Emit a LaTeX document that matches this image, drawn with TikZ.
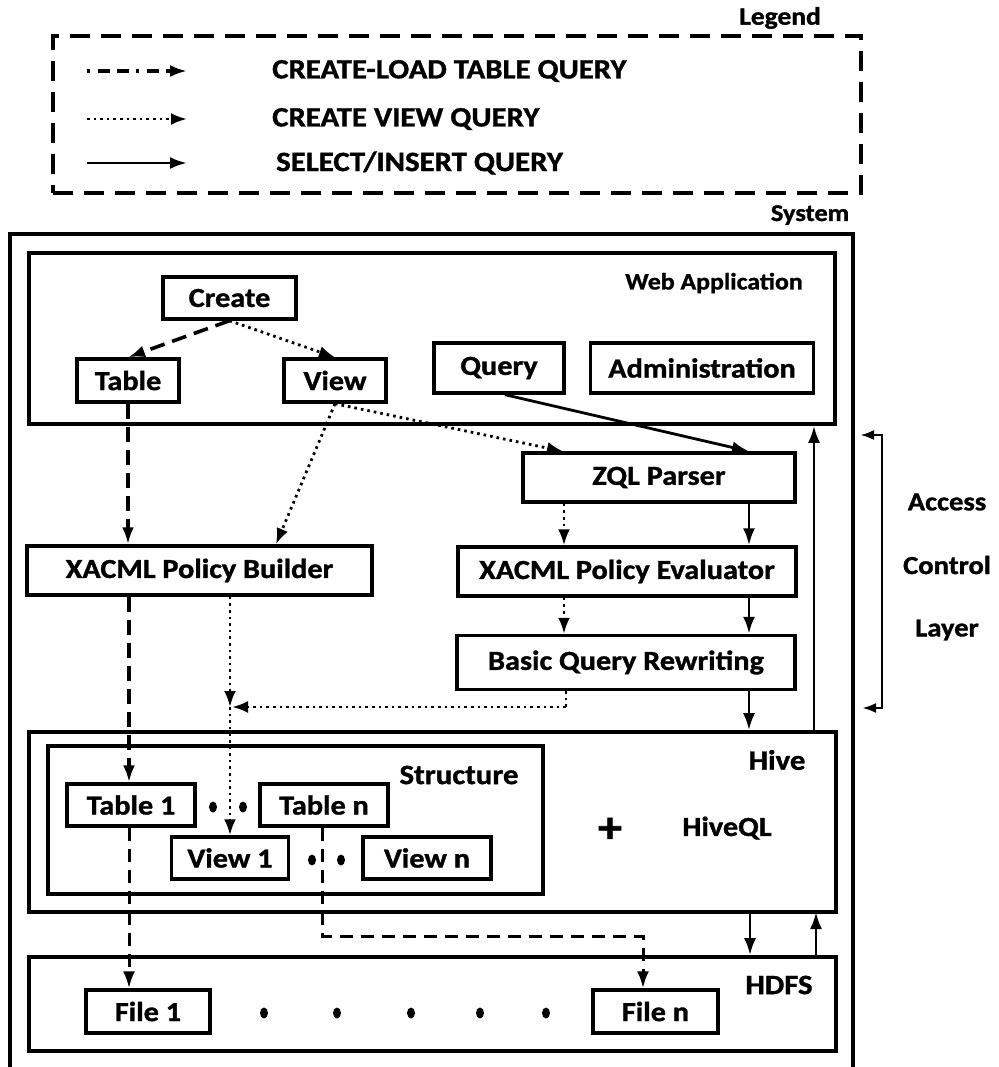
\documentclass[tikz,border=0pt]{standalone}
\usepackage{fontspec}
\setmainfont{Carlito}[FakeStretch=1.1, BoldFeatures={FakeBold=1.2}]
\usetikzlibrary{arrows.meta,calc}
\newcommand\boxfont{\fontsize{27.5}{30}\selectfont\bfseries}
\newcommand\lblfont{\fontsize{25}{28}\selectfont\bfseries}
\begin{document}
\begin{tikzpicture}[x=1pt,y=-1pt,
  box/.style={draw, line width=3.4pt, inner sep=0pt, font=\boxfont, align=center},
  frame/.style={draw, line width=3.6pt, inner sep=0pt},
  lbl/.style={inner sep=0pt, font=\lblfont},
  solidarr/.style={line width=2.8pt, -{Latex[length=17pt,width=12pt]}},
  dasharr/.style={line width=3.6pt, dash pattern=on 15pt off 8pt, -{Latex[length=17pt,width=12pt]}},
  thindasharr/.style={line width=3pt, dash pattern=on 13pt off 8pt, -{Latex[length=17pt,width=12pt]}},
  dotarr/.style={line width=2.8pt, dash pattern=on 2.6pt off 4pt, -{Latex[length=16pt,width=12pt]}},
  dotline/.style={line width=2.8pt, dash pattern=on 2.6pt off 4pt}
]
\useasboundingbox (0,0) rectangle (998,1067);

% ---------- Legend ----------
\node[lbl] (legendlbl) at (780,18) {Legend};
\node[frame, dash pattern=on 20pt off 11pt, minimum width=808pt, minimum height=157pt] (legend) at (457,114.5) {};
\coordinate (l1a) at (87,71);  \coordinate (l1b) at (187,71);
\coordinate (l2a) at (87,119); \coordinate (l2b) at (187,119);
\coordinate (l3a) at (87,163); \coordinate (l3b) at (187,163);
\draw[line width=3.2pt, dash pattern=on 3pt off 8pt on 12pt off 7pt on 12pt off 7pt, -{Latex[length=17pt,width=12pt]}] (l1a) -- (l1b);
\draw[dotarr] (l2a) -- (l2b);
\draw[solidarr] (l3a) -- (l3b);
\node[inner sep=0pt, font=\fontsize{28}{30}\selectfont\bfseries, anchor=west] (t1) at (272,71) {CREATE-LOAD TABLE QUERY};
\node[inner sep=0pt, font=\fontsize{28}{30}\selectfont\bfseries, anchor=west] (t2) at (272,119) {CREATE VIEW QUERY};
\node[inner sep=0pt, font=\fontsize{28}{30}\selectfont\bfseries, anchor=west] (t3) at (276,163) {SELECT/INSERT QUERY};

% ---------- System ----------
\node[lbl, font=\fontsize{24}{26}\selectfont\bfseries] (syslbl) at (810,215) {System};
\draw[line width=3.6pt] (10,1070) -- (10,234) -- (853,234) -- (853,1070);

% ---------- Web application ----------
\node[frame, minimum width=806pt, minimum height=171pt] (webapp) at (432,338.5) {};
\node[lbl, font=\fontsize{23.5}{25}\selectfont\bfseries] (weblbl) at (714,283) {Web Application};
\node[box, minimum width=133pt, minimum height=42pt] (create) at (229.5,298) {Create};
\node[box, minimum width=102pt, minimum height=43pt] (table) at (128,380.5) {Table};
\node[box, minimum width=102pt, minimum height=43pt] (view) at (335,380.5) {View};
\node[box, minimum width=130pt, minimum height=50pt] (query) at (499,368) {Query};
\node[box, minimum width=223pt, minimum height=50pt] (admin) at (702,368) {Administration};

% ---------- Access control layer ----------
\node[box, minimum width=272pt, minimum height=49pt] (zql) at (659,477.5) {ZQL Parser};
\node[box, minimum width=345pt, minimum height=49pt] (builder) at (199.5,570.5) {XACML Policy Builder};
\node[box, minimum width=338pt, minimum height=49pt] (evaluator) at (627,571.5) {XACML Policy Evaluator};
\node[box, minimum width=338pt, minimum height=54pt] (rewriting) at (626,662.5) {Basic Query Rewriting};

\node[lbl, font=\fontsize{26}{28}\selectfont\bfseries] (acc) at (947,502) {Access};
\node[lbl, font=\fontsize{26}{28}\selectfont\bfseries] (ctl) at (947,565) {Control};
\node[lbl, font=\fontsize{26}{28}\selectfont\bfseries] (lay) at (947,630) {Layer};

% ---------- Hive ----------
\node[frame, minimum width=807pt, minimum height=180pt] (hive) at (432.5,822) {};
\node[lbl, font=\fontsize{28}{30}\selectfont\bfseries] (hivelbl) at (777,760) {Hive};
\node[frame, minimum width=495pt, minimum height=148pt] (structure) at (295.5,820) {};
\node[lbl, font=\fontsize{28}{30}\selectfont\bfseries] (structlbl) at (459,775) {Structure};
\node[box, minimum width=128pt, minimum height=42pt] (table1) at (131,805) {Table 1};
\node[box, minimum width=128pt, minimum height=42pt] (tablen) at (324,805) {Table n};
\node[box, minimum width=117pt, minimum height=42pt] (view1) at (230,858) {View 1};
\node[box, minimum width=128pt, minimum height=42pt] (viewn) at (427,858) {View n};
\node[inner sep=0pt, font=\fontsize{44}{44}\selectfont\bfseries] (plus) at (610,830) {+};
\node[lbl, font=\boxfont] (hiveql) at (727,828) {HiveQL};
\fill (213,807) ellipse (4pt and 5.5pt);
\fill (243,807) ellipse (4pt and 5.5pt);
\fill (312,860) ellipse (4pt and 5.5pt);
\fill (341,860) ellipse (4pt and 5.5pt);

% ---------- HDFS ----------
\node[frame, minimum width=807pt, minimum height=94pt] (hdfs) at (432.5,1004) {};
\node[lbl, font=\fontsize{28}{30}\selectfont\bfseries] (hdfslbl) at (779,985) {HDFS};
\node[box, minimum width=124pt, minimum height=43pt] (file1) at (148,1011.5) {File 1};
\node[box, minimum width=125pt, minimum height=43pt] (filen) at (655.5,1011.5) {File n};
\foreach \xx in {264,337,411,480,546} \fill (\xx,1013) ellipse (4pt and 5.5pt);

% ---------- Connectors ----------
\draw[dasharr] (create.south) -- (table.north);
\draw[dotarr] (create.south) -- (view.north);
\draw[dotarr] (view.south) -- ([xshift=-96pt]zql.north);
\draw[solidarr] ([xshift=6pt]query.south) -- ([xshift=90pt]zql.north);
\draw[dotarr] (view.south) -- ([xshift=76.5pt]builder.north);
\draw[dasharr] (table.south) -- ([xshift=-71.5pt]builder.north);

\draw[dotarr] ([xshift=-95pt]zql.south) -- ([xshift=-63pt]evaluator.north);
\draw[solidarr] ([xshift=90pt]zql.south) -- ([xshift=122pt]evaluator.north);
\draw[dotarr] ([xshift=-63pt]evaluator.south) -- ([xshift=-62pt]rewriting.north);
\draw[solidarr] ([xshift=122pt]evaluator.south) -- ([xshift=123pt]rewriting.north);
\coordinate (rwout) at ([xshift=123pt]rewriting.south);
\draw[solidarr] (rwout) -- (rwout |- hive.north);

% builder -> view 1 (dotted) with merge point
\coordinate (bdot) at ([xshift=30.5pt]builder.south);
\coordinate (merge) at (230,707);
\draw[dotarr] (bdot) -- (merge);
\coordinate (rwdot) at ([xshift=-60pt]rewriting.south);
\draw[dotline] (rwdot) -- (rwdot |- merge);
\draw[dotarr] (rwdot |- merge) -- ([xshift=2pt]merge);
\draw[dotarr] (merge) -- (view1.north);

% builder -> table 1 (dashed)
\coordinate (bdash) at ([xshift=-70.5pt]builder.south);
\draw[dasharr] (bdash) -- (bdash |- table1.north);

% table 1 -> file 1
\coordinate (t1out) at ([xshift=-2pt]table1.south);
\draw[thindasharr] (t1out) -- (t1out |- file1.north);
% table n -> file n
\coordinate (tnturn) at (322,936);
\coordinate (fnturn) at (643,936);
\draw[thindasharr] ([xshift=-2pt]tablen.south) -- (tnturn) -- (fnturn) -- (fnturn |- filen.north);

% Hive <-> HDFS
\coordinate (hd1) at (750,912);
\coordinate (hd2) at (816,912);
\draw[solidarr] (hd1) -- (hd1 |- hdfs.north);
\draw[solidarr] (hd2 |- hdfs.north) -- (hd2);
% Hive -> Web app
\coordinate (hw) at (814,732);
\draw[solidarr] (hw) -- (hw |- webapp.south);

% Access control bracket
\coordinate (brt) at (860,435);
\coordinate (brb) at (862,708);
\draw[line width=2.8pt, {Latex[length=14pt,width=10pt]}-{Latex[length=14pt,width=10pt]}] (brt) -- (882,435) -- (882,708) -- (brb);
\end{tikzpicture}
\end{document}
